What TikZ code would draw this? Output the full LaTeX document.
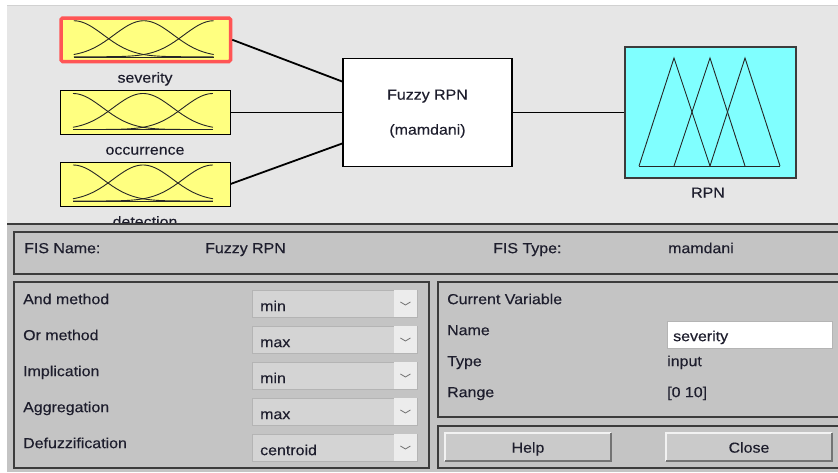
\documentclass[tikz,border=0pt]{standalone}
\usepackage{fontspec}
\setmainfont{Liberation Sans}[FakeStretch=1.1,FakeBold=0.25]
\usetikzlibrary{calc}
\definecolor{topbg}{RGB}{230,230,230}
\definecolor{panelbg}{RGB}{196,196,196}
\definecolor{mfyellow}{RGB}{255,255,128}
\definecolor{mfcyan}{RGB}{128,255,255}
\definecolor{selred}{RGB}{255,85,85}
\definecolor{framec}{RGB}{60,60,60}
\definecolor{txt}{RGB}{30,30,45}
\definecolor{ddfill}{RGB}{212,212,212}
\definecolor{ddborder}{RGB}{180,180,180}
\definecolor{ddbtn}{RGB}{236,236,236}
\definecolor{btnfill}{RGB}{202,202,202}
\begin{document}
\begin{tikzpicture}[x=1pt,y=-1pt,
  font=\fontsize{14.5}{17}\selectfont, text=txt,
  lbl/.style={anchor=mid west, inner sep=0, yshift=-2.5pt},
  clbl/.style={anchor=mid, inner sep=0, yshift=-2pt},
  inbox/.style={draw=black, fill=mfyellow, line width=1pt, inner sep=0,
                minimum width=170pt, minimum height=44pt},
  selbox/.style={draw=selred, fill=mfyellow, line width=3.5pt, inner sep=0,
                rounded corners=1.5pt, minimum width=169.5pt, minimum height=43.5pt},
  mfline/.style={line width=0.9pt, draw=black!85},
  conn/.style={line width=1.8pt, draw=black},
  panel/.style={draw=framec, line width=1.3pt},
  ddbox/.style={draw=ddborder, fill=ddfill, line width=0.8pt, inner sep=0,
                minimum width=165pt, minimum height=27pt},
  ddarrow/.style={fill=ddbtn},
  chev/.style={draw=black!55, line width=0.8pt},
  field/.style={draw=ddborder, fill=white, line width=0.8pt, inner sep=0,
                minimum width=165pt, minimum height=27pt},
  btn/.style={fill=btnfill, inner sep=0, minimum width=166pt, minimum height=28pt},
  btnhi/.style={draw=white!90!gray, line width=1.5pt},
  btnlo/.style={draw=black!55, line width=1.5pt}
]
\useasboundingbox (0,0) rectangle (838,472);
% backgrounds
\fill[white] (0,0) rectangle (838,472);
\fill[topbg] (7,5) rectangle (838,224);
\draw[black!18, line width=0.8pt] (7,5.4) -- (838,5.4);

% input boxes
\node[selbox] (sev) at (145.75,39.75) {};
\node[inbox] (occ) at (145,112.5) {};
\node[inbox] (det) at (145,184) {};
\foreach \n in {sev,occ,det}{
  \begin{scope}[shift={(\n.center)}]
    \draw[mfline] plot[domain=0:10, samples=70] ({-72+14*\x},{17-36*exp(-1*(\x)*(\x)/9)});
    \draw[mfline] plot[domain=0:10, samples=70] ({-72+14*\x},{17-36*exp(-1*(\x-5)*(\x-5)/9)});
    \draw[mfline] plot[domain=0:10, samples=70] ({-72+14*\x},{17-36*exp(-1*(\x-10)*(\x-10)/9)});
    \draw[mfline] (-72,17.3) -- (68,17.3);
  \end{scope}
}
\node[clbl] (sevl) at (145,78) {severity};
\node[clbl] (occl) at (145,150) {occurrence};
\node[clbl] (detl) at (145,222) {detection};

% FIS box
\node[draw=black, fill=white, line width=1.6pt, inner sep=0,
      minimum width=169pt, minimum height=108pt] (fis) at (427.5,112.5) {};
\node[clbl] (fisa) at (427.5,95) {Fuzzy RPN};
\node[clbl] (fisb) at (427.5,130) {(mamdani)};

% output box
\node[draw=framec, fill=mfcyan, line width=1.2pt, inner sep=0,
      minimum width=171pt, minimum height=131pt] (rpn) at (710.5,112.5) {};
\draw[mfline] (639,166) -- (674,58) -- (710,166);
\draw[mfline] (674,166) -- (710,58) -- (745,166);
\draw[mfline] (710,166) -- (745,58) -- (780,166);
\draw[mfline] (639,166) -- (780,166);
\node[clbl] (rpnl) at (708,193) {RPN};

% connectors
\draw[conn] (sev.east) -- ($(fis.west)+(0,-31)$);
\draw[conn] (occ.east) -- (fis.west);
\draw[conn] (det.east) -- ($(fis.west)+(0,31)$);
\draw[conn] (fis.east) -- (rpn.west);

% bottom panel
\fill[panelbg] (7,224) rectangle (838,472);
\draw[framec, line width=2pt] (7,224) -- (838,224);

% FIS name row
\draw[panel] (839,232) -- (14,232) -- (14,274) -- (839,274);
\node[lbl] (fn) at (24,248) {FIS Name:};
\node[lbl] (fnv) at (205,248) {Fuzzy RPN};
\node[lbl] (ft) at (493,248) {FIS Type:};
\node[lbl] (ftv) at (668,248) {mamdani};

% methods panel
\draw[panel] (14,282) rectangle (429,468);
\foreach \i/\lab/\val in {0/And method/min, 1/Or method/max, 2/Implication/min,
                          3/Aggregation/max, 4/Defuzzification/centroid}{
  \node[lbl] (m\i) at (23,{299+36*\i}) {\lab};
  \node[ddbox] (dd\i) at (334.5,{303.5+36*\i}) {};
  \fill[ddarrow] ($(dd\i.north east)+(-23,0.5)$) rectangle ($(dd\i.south east)+(-0.5,-0.5)$);
  \draw[chev] ($(dd\i.east)+(-17,-1.5)$) -- ($(dd\i.east)+(-12,1.5)$) -- ($(dd\i.east)+(-7,-1.5)$);
  \node[lbl] (v\i) at (260,{306+36*\i}) {\val};
}

% current variable panel
\draw[panel] (839,282) -- (438,282) -- (438,417) -- (839,417);
\node[lbl] (cv) at (447,299) {Current Variable};
\node[lbl] (nm) at (447,330) {Name};
\node[field] (nmf) at (749.5,334.5) {};
\node[lbl] (nmv) at (673,336) {severity};
\node[lbl] (ty) at (447,361) {Type};
\node[lbl] (tyv) at (667,361) {input};
\node[lbl] (rg) at (447,392) {Range};
\node[lbl] (rgv) at (667,392) {[0 10]};

% buttons panel
\draw[panel] (839,426) -- (438,426) -- (438,468) -- (839,468);
\node[btn] (help) at (528,447) {};
\node[btn] (close) at (749,447) {};
\foreach \b in {help,close}{
  \draw[btnhi] (\b.south west) -- (\b.north west) -- (\b.north east);
  \draw[btnlo] (\b.north east) -- (\b.south east) -- (\b.south west);
}
\node[clbl] (helpt) at (528,448) {Help};
\node[clbl] (closet) at (749,448) {Close};
\end{tikzpicture}
\end{document}
